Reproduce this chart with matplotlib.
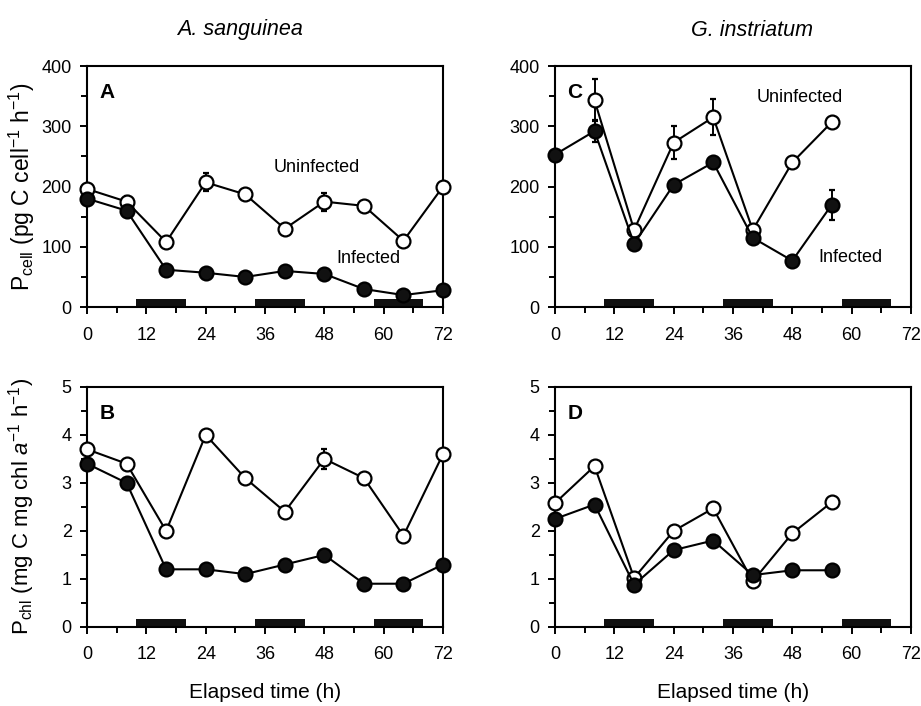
import matplotlib
matplotlib.use('Agg')
import matplotlib.pyplot as plt
from matplotlib.ticker import MultipleLocator

plt.rcParams['font.family'] = ['Liberation Sans', 'DejaVu Sans']
plt.rcParams['mathtext.fontset'] = 'custom'
plt.rcParams['mathtext.rm'] = 'Liberation Sans'
plt.rcParams['mathtext.it'] = 'Liberation Sans:italic'
plt.rcParams['mathtext.bf'] = 'Liberation Sans:bold'

# elapsed time (h)
time_as = [0, 8, 16, 24, 32, 40, 48, 56, 64, 72]
time_gi = [0, 8, 16, 24, 32, 40, 48, 56]
time_gi_unf = [8, 16, 24, 32, 40, 48, 56]

# dark periods (start, length in h)
dark_start = [10, 34, 58]
dark_length = 10

# A. sanguinea, P_cell
a_uninf = [196, 175, 108, 207, 187, 130, 175, 168, 110, 200]
a_uninf_err = [0, 10, 0, 15, 0, 0, 15, 0, 0, 0]
a_inf = [180, 160, 62, 57, 50, 60, 55, 30, 20, 28]

# G. instriatum, P_cell
c_uninf = [343, 128, 273, 315, 128, 240, 307]
c_uninf_err = [35, 0, 27, 30, 0, 0, 0]
c_inf = [253, 292, 105, 203, 240, 115, 77, 170]
c_inf_err = [0, 18, 0, 0, 0, 0, 0, 25]

# A. sanguinea, P_chl
b_uninf = [3.7, 3.4, 2.0, 4.0, 3.1, 2.4, 3.5, 3.1, 1.9, 3.6]
b_uninf_err = [0, 0, 0, 0, 0, 0, 0.2, 0, 0, 0]
b_inf = [3.4, 3.0, 1.2, 1.2, 1.1, 1.3, 1.5, 0.9, 0.9, 1.3]

# G. instriatum, P_chl
d_uninf = [2.58, 3.35, 1.02, 2.0, 2.47, 0.95, 1.95, 2.6]
d_inf = [2.25, 2.55, 0.88, 1.6, 1.8, 1.08, 1.18, 1.18]
d_inf_err = [0, 0.1, 0, 0, 0.12, 0, 0, 0]


def style_axes(ax, ymax, ymajor, yminor):
    ax.set_xlim(0, 72)
    ax.set_ylim(0, ymax)
    ax.xaxis.set_major_locator(MultipleLocator(12))
    ax.xaxis.set_minor_locator(MultipleLocator(6))
    ax.yaxis.set_major_locator(MultipleLocator(ymajor))
    ax.yaxis.set_minor_locator(MultipleLocator(yminor))
    ax.tick_params(which='major', direction='out', length=5, width=1.4,
                   labelsize=13)
    ax.tick_params(axis='x', which='major', pad=9)
    ax.tick_params(axis='y', which='major', pad=6)
    ax.tick_params(which='minor', direction='out', length=4, width=1.4)
    for s in ax.spines.values():
        s.set_linewidth(1.5)
    for start in dark_start:
        ax.axvspan(start, start + dark_length, ymin=0, ymax=0.033,
                   color='#111111', lw=0, clip_on=False)


def plot_series(ax, x_unf, y_unf, e_unf, x_inf, y_inf, e_inf):
    kw = dict(color='black', lw=1.5, marker='o', markersize=10,
              markeredgewidth=1.6, capsize=2.5, elinewidth=1.4, capthick=1.4,
              clip_on=False)
    ax.errorbar(x_unf, y_unf, yerr=e_unf, markerfacecolor='white',
                markeredgecolor='black', zorder=3, **kw)
    ax.errorbar(x_inf, y_inf, yerr=e_inf, markerfacecolor='#111111',
                markeredgecolor='black', zorder=4, **kw)


fig = plt.figure(figsize=(9.21, 7.06), dpi=100)
axA = fig.add_axes([0.0945, 0.565, 0.3865, 0.3415])
axC = fig.add_axes([0.6026, 0.565, 0.3865, 0.3415])
axB = fig.add_axes([0.0945, 0.112, 0.3865, 0.34])
axD = fig.add_axes([0.6026, 0.112, 0.3865, 0.34])

plot_series(axA, time_as, a_uninf, a_uninf_err, time_as, a_inf, None)
style_axes(axA, 400, 100, 50)
axA.text(46.5, 231, 'Uninfected', fontsize=13, ha='center', va='center')
axA.text(57, 80, 'Infected', fontsize=13, ha='center', va='center')

plot_series(axC, time_gi_unf, c_uninf, c_uninf_err, time_gi, c_inf, c_inf_err)
style_axes(axC, 400, 100, 50)
axC.text(49.6, 347, 'Uninfected', fontsize=13, ha='center', va='center')
axC.text(59.7, 82, 'Infected', fontsize=13, ha='center', va='center')

plot_series(axB, time_as, b_uninf, b_uninf_err, time_as, b_inf, None)
style_axes(axB, 5, 1, 0.5)

plot_series(axD, time_gi, d_uninf, None, time_gi, d_inf, d_inf_err)
style_axes(axD, 5, 1, 0.5)

for ax, letter in [(axA, 'A'), (axC, 'C'), (axB, 'B'), (axD, 'D')]:
    ax.text(0.035, 0.93, letter, transform=ax.transAxes, fontsize=15,
            fontweight='bold', ha='left', va='top')

axA.set_ylabel(r'P$_{\mathrm{cell}}$ (pg C cell$^{-1}$ h$^{-1}$)', fontsize=16.5)
axB.set_ylabel(r'P$_{\mathrm{chl}}$ (mg C mg chl $a^{-1}$ h$^{-1}$)', fontsize=16)
axA.yaxis.set_label_coords(-0.14, 0.5)
axB.yaxis.set_label_coords(-0.14, 0.5)

axB.set_xlabel('Elapsed time (h)', fontsize=15, labelpad=14)
axD.set_xlabel('Elapsed time (h)', fontsize=15, labelpad=14)

fig.text(240 / 921, 1 - 30 / 706, 'A. sanguinea', fontsize=15.5, style='italic',
         ha='center', va='center')
fig.text(752 / 921, 1 - 30 / 706, 'G. instriatum', fontsize=15.5, style='italic',
         ha='center', va='center')

fig.savefig('out.png', dpi=100)
